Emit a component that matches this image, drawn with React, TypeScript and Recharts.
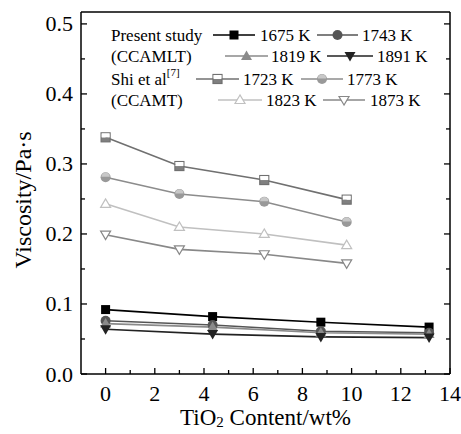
import React from "react";
import { LineChart, Line, XAxis, YAxis } from "recharts";

const presentX = [0, 4.35, 8.75, 13.15];
const shiX = [0, 3.0, 6.45, 9.8];

const v1675 = [0.092, 0.082, 0.074, 0.067];
const v1743 = [0.076, 0.07, 0.061, 0.059];
const v1819 = [0.072, 0.067, 0.059, 0.057];
const v1891 = [0.064, 0.057, 0.053, 0.052];

const v1723 = [0.338, 0.297, 0.277, 0.249];
const v1773 = [0.281, 0.257, 0.246, 0.217];
const v1823 = [0.243, 0.21, 0.2, 0.184];
const v1873 = [0.199, 0.178, 0.171, 0.158];

const yTicks = [0, 0.05, 0.1, 0.15, 0.2, 0.25, 0.3, 0.35, 0.4, 0.45, 0.5];
const xTicks = [0, 1, 2, 3, 4, 5, 6, 7, 8, 9, 10, 11, 12, 13, 14];

const FONT = "Liberation Serif, Times New Roman, serif";

type Kind = "sq" | "ci" | "tri" | "dtri" | "hsq" | "hci" | "otri" | "odtri";

function Marker({ kind, cx, cy, color }: { kind: Kind; cx: number; cy: number; color: string }) {
  const s = 4.5;
  switch (kind) {
    case "sq":
      return <rect x={cx - s} y={cy - s} width={2 * s} height={2 * s} fill={color} />;
    case "ci":
      return <circle cx={cx} cy={cy} r={5} fill={color} />;
    case "tri":
      return <polygon points={`${cx},${cy - 5.5} ${cx - 5.5},${cy + 4} ${cx + 5.5},${cy + 4}`} fill={color} />;
    case "dtri":
      return <polygon points={`${cx},${cy + 5.5} ${cx - 5.5},${cy - 4} ${cx + 5.5},${cy - 4}`} fill={color} />;
    case "hsq":
      return (
        <g>
          <rect x={cx - s} y={cy} width={2 * s} height={s} fill="#808080" />
          <rect x={cx - s} y={cy - s} width={2 * s} height={2 * s} fill="none" stroke={color} strokeWidth={1.2} />
          <rect x={cx - s + 0.6} y={cy - s + 0.6} width={2 * s - 1.2} height={s - 0.6} fill="#fff" />
        </g>
      );
    case "hci":
      return (
        <g>
          <circle cx={cx} cy={cy} r={5} fill="#999" />
          <path d={`M${cx - 4.2},${cy - 0.5} A4.2,4.2 0 0 1 ${cx + 4.2},${cy - 0.5} Z`} fill="#c8c8c8" />
        </g>
      );
    case "otri":
      return (
        <polygon
          points={`${cx},${cy - 5} ${cx - 5},${cy + 3.5} ${cx + 5},${cy + 3.5}`}
          fill="#fff"
          stroke={color}
          strokeWidth={1.2}
        />
      );
    case "odtri":
      return (
        <polygon
          points={`${cx},${cy + 5} ${cx - 5},${cy - 3.5} ${cx + 5},${cy - 3.5}`}
          fill="#fff"
          stroke={color}
          strokeWidth={1.2}
        />
      );
  }
  return null;
}

const series = [
  { name: "1675 K", xs: presentX, vs: v1675, color: "#000", kind: "sq" as Kind },
  { name: "1743 K", xs: presentX, vs: v1743, color: "#555", kind: "ci" as Kind },
  { name: "1819 K", xs: presentX, vs: v1819, color: "#8a8a8a", kind: "tri" as Kind },
  { name: "1891 K", xs: presentX, vs: v1891, color: "#222", kind: "dtri" as Kind },
  { name: "1723 K", xs: shiX, vs: v1723, color: "#707070", kind: "hsq" as Kind },
  { name: "1773 K", xs: shiX, vs: v1773, color: "#8c8c8c", kind: "hci" as Kind },
  { name: "1823 K", xs: shiX, vs: v1823, color: "#c0c0c0", kind: "otri" as Kind },
  { name: "1873 K", xs: shiX, vs: v1873, color: "#888", kind: "odtri" as Kind },
];

const isMajorY = (v: number) => Math.abs(v * 10 - Math.round(v * 10)) < 1e-6;
const isMajorX = (v: number) => v % 2 === 0;

function LeftTick(props: any) {
  const { x, y, payload } = props;
  const major = isMajorY(payload.value);
  return (
    <g>
      <line x1={x} x2={x + (major ? 6 : 4)} y1={y} y2={y} stroke="#000" strokeWidth={1.3} />
      {major && (
        <text x={x - 8} y={y} textAnchor="end" dominantBaseline="central" fontSize={22} fontFamily={FONT} fill="#000">
          {payload.value.toFixed(1)}
        </text>
      )}
    </g>
  );
}

function RightTick(props: any) {
  const { x, y, payload } = props;
  const major = isMajorY(payload.value);
  return <line x1={x} x2={x - (major ? 6 : 4)} y1={y} y2={y} stroke="#000" strokeWidth={1.3} />;
}

function BottomTick(props: any) {
  const { x, y, payload } = props;
  const major = isMajorX(payload.value);
  return (
    <g>
      <line x1={x} x2={x} y1={y} y2={y - (major ? 6 : 4)} stroke="#000" strokeWidth={1.3} />
      {major && (
        <text x={x} y={y + 19} textAnchor="middle" dominantBaseline="central" fontSize={22} fontFamily={FONT} fill="#000">
          {payload.value}
        </text>
      )}
    </g>
  );
}

function TopTick(props: any) {
  const { x, y, payload } = props;
  const major = isMajorX(payload.value);
  return <line x1={x} x2={x} y1={y} y2={y + (major ? 6 : 4)} stroke="#000" strokeWidth={1.3} />;
}

function LegendItem({ x1, x2, y, idx, tx }: { x1: number; x2: number; y: number; idx: number; tx: number }) {
  const s = series[idx];
  return (
    <g>
      <line x1={x1} x2={x2} y1={y} y2={y} stroke={s.color} strokeWidth={1.6} />
      <Marker kind={s.kind} cx={(x1 + x2) / 2} cy={y} color={s.color} />
      <text x={tx} y={y} dominantBaseline="central" fontSize={17} fontFamily={FONT} fill="#000">
        {s.name}
      </text>
    </g>
  );
}

function ChartLegend() {
  const rows = [35, 56, 79, 100];
  return (
    <g>
      <text x={111} y={rows[0]} dominantBaseline="central" fontSize={17} fontFamily={FONT}>Present study</text>
      <text x={111} y={rows[1]} dominantBaseline="central" fontSize={17} fontFamily={FONT}>(CCAMLT)</text>
      <text x={111} y={rows[2]} dominantBaseline="central" fontSize={17} fontFamily={FONT}>
        Shi et al
        <tspan fontSize={11} dy={-7}>[7]</tspan>
      </text>
      <text x={111} y={rows[3]} dominantBaseline="central" fontSize={17} fontFamily={FONT}>(CCAMT)</text>
      <LegendItem x1={213} x2={255} y={rows[0]} idx={0} tx={260} />
      <LegendItem x1={317} x2={358} y={rows[0]} idx={1} tx={362} />
      <LegendItem x1={225} x2={268} y={rows[1]} idx={2} tx={271} />
      <LegendItem x1={327} x2={373} y={rows[1]} idx={3} tx={377} />
      <LegendItem x1={196} x2={239} y={rows[2]} idx={4} tx={243} />
      <LegendItem x1={301} x2={343} y={rows[2]} idx={5} tx={347} />
      <LegendItem x1={218} x2={262} y={rows[3]} idx={6} tx={266} />
      <LegendItem x1={323} x2={365} y={rows[3]} idx={7} tx={370} />
    </g>
  );
}

export default function App() {
  return (
    <div style={{ position: "absolute", left: 0, top: 0, width: 461, height: 434, background: "#fff" }}>
      <LineChart width={461} height={434} margin={{ top: 11, right: 10, left: 0, bottom: 0 }}>
        <XAxis
          dataKey="x"
          type="number"
          domain={[-1, 14]}
          ticks={xTicks}
          interval={0}
          height={60}
          tickSize={0}
          tickMargin={0}
          tickLine={false}
          axisLine={{ stroke: "#000", strokeWidth: 1.5 }}
          tick={<BottomTick />}
          allowDataOverflow
          label={{
            content: (p: any) => {
              const vb = p.viewBox;
              return (
                <text
                  x={vb.x + vb.width / 2}
                  y={417}
                  textAnchor="middle"
                  dominantBaseline="central"
                  fontSize={23}
                  fontFamily={FONT}
                  fill="#000"
                >
                  TiO
                  <tspan fontSize={15} dy={5}>2</tspan>
                  <tspan dy={-5}> Content/wt%</tspan>
                </text>
              );
            },
          }}
        />
        <XAxis
          xAxisId="t"
          orientation="top"
          type="number"
          domain={[-1, 14]}
          ticks={xTicks}
          interval={0}
          height={1}
          tickSize={0}
          tickMargin={0}
          tickLine={false}
          axisLine={{ stroke: "#000", strokeWidth: 1.5 }}
          tick={<TopTick />}
          allowDataOverflow
        />
        <YAxis
          type="number"
          domain={[0, 0.517]}
          ticks={yTicks}
          interval={0}
          width={81}
          tickSize={0}
          tickMargin={0}
          tickLine={false}
          axisLine={{ stroke: "#000", strokeWidth: 1.5 }}
          tick={<LeftTick />}
          allowDataOverflow
          label={{
            content: () => (
              <text
                x={23}
                y={200}
                transform="rotate(-90 23 200)"
                textAnchor="middle"
                dominantBaseline="central"
                fontSize={24}
                fontFamily={FONT}
                fill="#000"
              >
                Viscosity/Pa·s
              </text>
            ),
          }}
        />
        <YAxis
          yAxisId="r"
          orientation="right"
          type="number"
          domain={[0, 0.517]}
          ticks={yTicks}
          interval={0}
          width={1}
          tickSize={0}
          tickMargin={0}
          tickLine={false}
          axisLine={{ stroke: "#000", strokeWidth: 1.5 }}
          tick={<RightTick />}
          allowDataOverflow
        />
        {series.map((s) => (
          <Line
            key={s.name}
            data={s.xs.map((x, i) => ({ x, v: s.vs[i] }))}
            dataKey="v"
            name={s.name}
            type="linear"
            stroke={s.color}
            strokeWidth={1.6}
            isAnimationActive={false}
            dot={(p: any) => <Marker key={`${s.name}-${p.index}`} kind={s.kind} cx={p.cx} cy={p.cy} color={s.color} />}
            activeDot={false}
          />
        ))}
        <ChartLegend />
      </LineChart>
    </div>
  );
}
